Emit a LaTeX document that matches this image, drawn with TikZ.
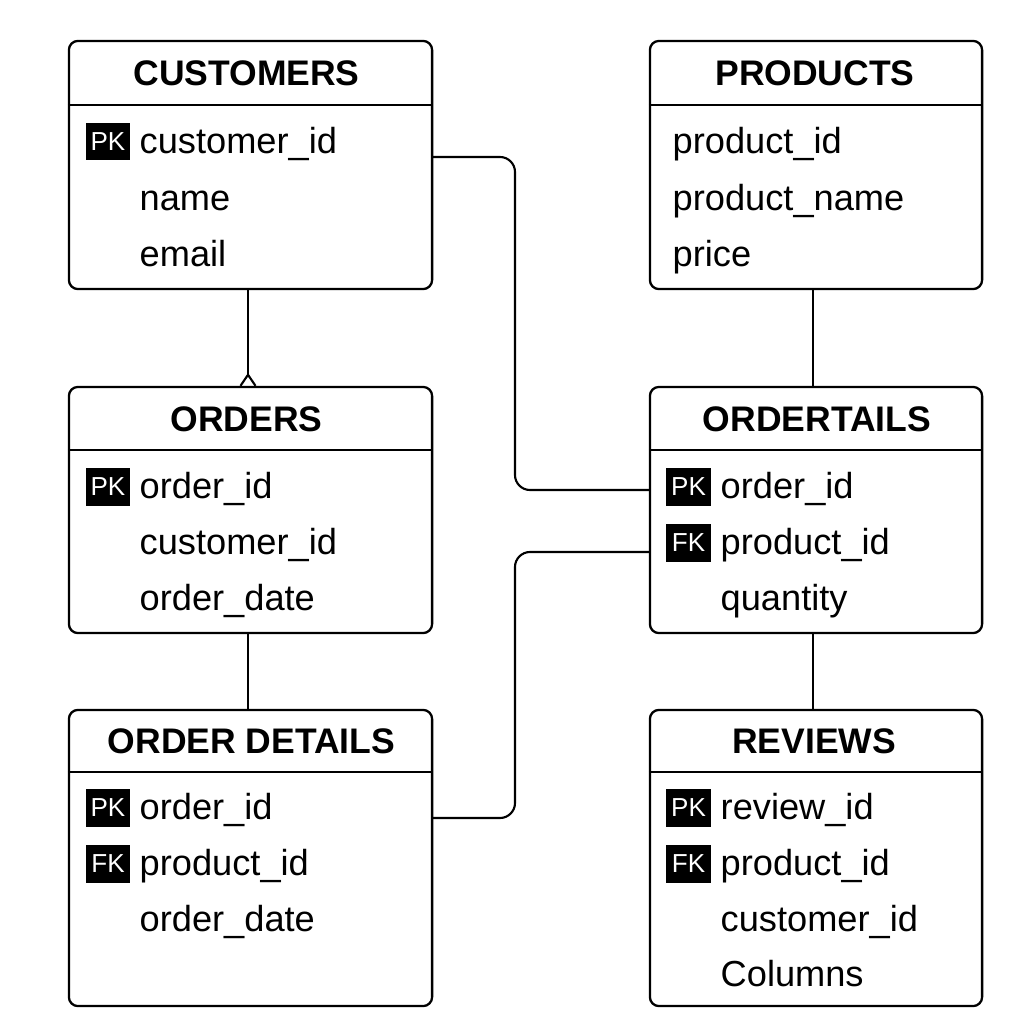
\documentclass[tikz,border=0pt]{standalone}
\usepackage{fontspec}
\setmainfont{Liberation Sans}
\usetikzlibrary{calc}

\begin{document}
\begin{tikzpicture}[x=0.01cm,y=-0.01cm,
    tbl/.style={draw,line width=0.65pt,rounded corners=0.09cm,inner sep=0pt},
    hdr/.style={font=\fontsize{10.1}{12}\selectfont\bfseries,inner sep=0pt},
    fld/.style={font=\fontsize{10.3}{12}\selectfont,anchor=base west,inner sep=0pt},
    key/.style={fill=black,text=white,inner sep=0pt,minimum width=0.44cm,minimum height=0.37cm,font=\fontsize{7.4}{8}\selectfont},
    link/.style={line width=0.6pt,rounded corners=0.15cm}]
				\useasboundingbox (0,0) rectangle (1024,1024);
				
				% tables
				\node[tbl,minimum width=3.63cm,minimum height=2.48cm] (cust) at (250.5,165) {};
				\node[tbl,minimum width=3.32cm,minimum height=2.48cm] (prod) at (816,165) {};
				\node[tbl,minimum width=3.63cm,minimum height=2.46cm] (ord) at (250.5,510) {};
				\node[tbl,minimum width=3.32cm,minimum height=2.46cm] (odt) at (816,510) {};
				\node[tbl,minimum width=3.63cm,minimum height=2.96cm] (odet) at (250.5,858) {};
				\node[tbl,minimum width=3.32cm,minimum height=2.96cm] (rev) at (816,858) {};
				
				% header lines
				\draw[line width=0.65pt] ($(cust.north west)+(0,65)$) -- ($(cust.north east)+(0,65)$);
				\draw[line width=0.65pt] ($(prod.north west)+(0,65)$) -- ($(prod.north east)+(0,65)$);
				\draw[line width=0.65pt] ($(ord.north west)+(0,64)$) -- ($(ord.north east)+(0,64)$);
				\draw[line width=0.65pt] ($(odt.north west)+(0,64)$) -- ($(odt.north east)+(0,64)$);
				\draw[line width=0.65pt] ($(odet.north west)+(0,63)$) -- ($(odet.north east)+(0,63)$);
				\draw[line width=0.65pt] ($(rev.north west)+(0,63)$) -- ($(rev.north east)+(0,63)$);
				
				% titles
				\node[hdr] (cust-t) at ($(cust.north)+(-4,33)$) {CUSTOMERS};
				\node[hdr] (prod-t) at ($(prod.north)+(-1,33)$) {PRODUCTS};
				\node[hdr] (ord-t) at ($(ord.north)+(-4,33)$) {ORDERS};
				\node[hdr] (odt-t) at ($(odt.north)+(1,33)$) {ORDERTAILS};
				\node[hdr] (odet-t) at ($(odet.north)+(1,32)$) {ORDER DETAILS};
				\node[hdr] (rev-t) at ($(rev.north)+(-2,32)$) {REVIEWS};
				
				% CUSTOMERS
				\node[key] (cust-k1) at (108,141.5) {PK};
				\node[fld] (cust-f1) at (139,153) {customer\_id};
				\node[fld] (cust-f2) at (139,210) {name};
				\node[fld] (cust-f3) at (139,266) {email};
				
				% PRODUCTS
				\node[fld] (prod-f1) at (672,153) {product\_id};
				\node[fld] (prod-f2) at (672,210) {product\_name};
				\node[fld] (prod-f3) at (672,266) {price};
				
				% ORDERS
				\node[key] (ord-k1) at (108,487) {PK};
				\node[fld] (ord-f1) at (139,498) {order\_id};
				\node[fld] (ord-f2) at (139,554) {customer\_id};
				\node[fld] (ord-f3) at (139,610) {order\_date};
				
				% ORDERTAILS
				\node[key] (odt-k1) at (688.5,487) {PK};
				\node[fld] (odt-f1) at (720,498) {order\_id};
				\node[key] (odt-k2) at (688.5,543) {FK};
				\node[fld] (odt-f2) at (720,554) {product\_id};
				\node[fld] (odt-f3) at (720,610) {quantity};
				
				% ORDER DETAILS
				\node[key] (odet-k1) at (108,808) {PK};
				\node[fld] (odet-f1) at (139,819) {order\_id};
				\node[key] (odet-k2) at (108,864) {FK};
				\node[fld] (odet-f2) at (139,875) {product\_id};
				\node[fld] (odet-f3) at (139,931) {order\_date};
				
				% REVIEWS
				\node[key] (rev-k1) at (688.5,808) {PK};
				\node[fld] (rev-f1) at (720,819) {review\_id};
				\node[key] (rev-k2) at (688.5,864) {FK};
				\node[fld] (rev-f2) at (720,875) {product\_id};
				\node[fld] (rev-f3) at (720,931) {customer\_id};
				\node[fld] (rev-f4) at (720,986) {Columns};
				
				% links
				\coordinate (cust-r) at (432,157);
				\coordinate (odt-l1) at (650,490);
				\coordinate (odet-r) at (432,818);
				\coordinate (odt-l2) at (650,552);
				\coordinate (ord-tip) at ($(ord.north)+(-2.5,-11)$);
				
				\draw[link] ($(cust.south)+(-2.5,0)$) -- (ord-tip);
				\draw[line width=0.6pt] ($(ord.north)+(-10,0)$) -- (ord-tip) -- ($(ord.north)+(5,0)$);
				\draw[link] (cust-r) -- (515,157) -- (515,490) -- (odt-l1);
				\draw[link] (odet-r) -- (515,818) -- (515,552) -- (odt-l2);
				\draw[link] ($(prod.south)+(-3,0)$) -- ($(odt.north)+(-3,0)$);
				\draw[link] ($(ord.south)+(-2.5,0)$) -- ($(odet.north)+(-2.5,0)$);
				\draw[link] ($(odt.south)+(-3,0)$) -- ($(rev.north)+(-3,0)$);
			\end{tikzpicture}
\end{document}
